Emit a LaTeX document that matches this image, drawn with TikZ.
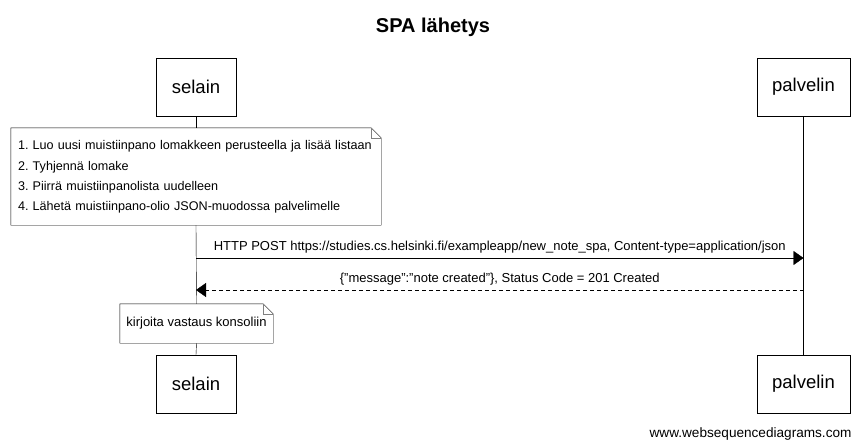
\documentclass[tikz,border=0pt]{standalone}
\usepackage{fontspec}
\setmainfont{Liberation Sans}
\usetikzlibrary{calc,arrows.meta}
\frenchspacing

%folded note outline round a node
\newcommand{\notefold}[1]{%
  \draw ($(#1.north east)+(-10,0)$) -- (#1.north west) -- (#1.south west) -- (#1.south east) -- ($(#1.north east)+(0,10)$) -- cycle;
  \draw[gray] ($(#1.north east)+(-10,0)$) -- ($(#1.north east)+(-10,10)$) -- ($(#1.north east)+(0,10)$);
}

\begin{document}
\begin{tikzpicture}[x=1pt,y=-1pt,
  actor/.style={draw,minimum height=58pt,inner sep=0pt,font=\fontsize{18.5}{22}\selectfont},
  notebox/.style={inner sep=5pt,align=left,font=\fontsize{12.6}{19.6}\selectfont},
  msg/.style={-{Triangle[length=10pt,width=14pt]}},
  msglabel/.style={font=\fontsize{13}{15}\selectfont,above=1pt},
  reply/.style={msg,dash pattern=on 4pt off 3pt}
]
\useasboundingbox[fill=white] (0,0) rectangle (866,447);

\node[font=\bfseries\fontsize{20}{24}\selectfont] (title) at (433,27) {SPA lähetys};

\node[actor,minimum width=80pt] (selTop) at (196,87) {selain};
\node[actor,minimum width=93pt] (palTop) at (803.5,87) {palvelin};
\node[actor,minimum width=80pt] (selBot) at (196,384) {selain};
\node[actor,minimum width=93pt] (palBot) at (803.5,384) {palvelin};

\node[notebox,inner xsep=7pt,minimum width=370pt,minimum height=97pt,text width=356pt] (note1) at (196,176.5)
  {\vspace*{2pt}1. Luo uusi muistiinpano lomakkeen perusteella ja lisää listaan\\
   2. Tyhjennä lomake\\
   3. Piirrä muistiinpanolista uudelleen\\
   4. Lähetä muistiinpano-olio JSON-muodossa palvelimelle};
\node[notebox,font=\fontsize{13}{15}\selectfont,minimum width=153pt,minimum height=39pt] (note2) at (196.5,323.5) {kirjoita vastaus konsoliin};

% lifelines
\draw (selTop.south) -- (note1.north);
\draw (note1.south) -- (note2.north);
\draw (note2.south) -- (selBot.north);
\draw (palTop.south) -- (palBot.north);

\notefold{note1}
\notefold{note2}

% messages
\coordinate (post1) at (196,258);
\coordinate (post2) at (803.5,258);
\coordinate (resp1) at (803.5,290);
\coordinate (resp2) at (196,290);
\draw[msg] (post1) -- (post2) node[midway,msglabel] {HTTP POST https://studies.cs.helsinki.fi/exampleapp/new\_note\_spa, Content-type=application/json};
\draw[reply] (resp1) -- (resp2) node[midway,msglabel] {\{"message":"note created"\}, Status Code = 201 Created};

\node[anchor=base east,font=\fontsize{13.6}{16}\selectfont] (credit) at (855,437) {www.websequencediagrams.com};

\end{tikzpicture}
\end{document}
